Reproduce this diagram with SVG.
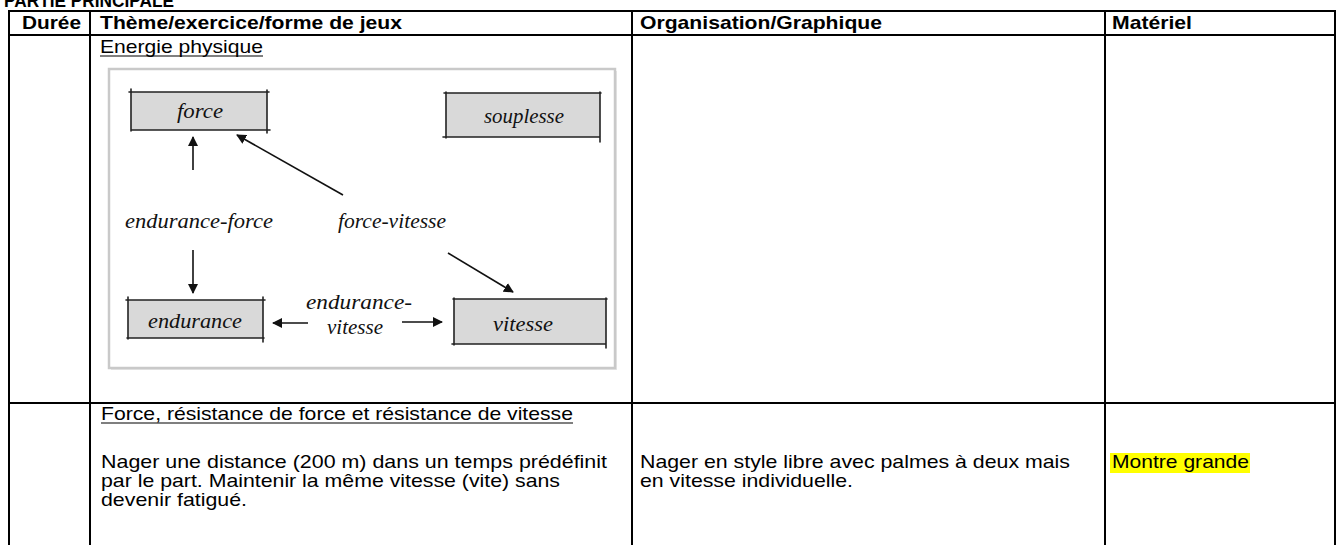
<svg xmlns="http://www.w3.org/2000/svg" width="1338" height="545" viewBox="0 0 1338 545">
<style>
.hd{font-family:"Liberation Sans",Arial,sans-serif;font-weight:bold;font-size:19px;fill:#000}
.tx{font-family:"Liberation Sans",Arial,sans-serif;font-size:19px;fill:#000}
.hw{font-family:"Liberation Serif","Times New Roman",serif;font-style:italic;font-size:22px;fill:#111}
.tl{stroke:#000;stroke-width:2;fill:none}
.ul{stroke:#000;stroke-width:1.2}
.bx{fill:#d9d9d9;stroke:none}
.bl{stroke:#222;stroke-width:1.6;fill:none;stroke-linecap:round}
.ar{stroke:#111;stroke-width:1.6;fill:none;marker-end:url(#ah)}
</style>
<defs>
<marker id="ah" viewBox="0 0 10 10" refX="9" refY="5" markerWidth="10" markerHeight="10" orient="auto" markerUnits="userSpaceOnUse">
<path d="M0,0 L10,5 L0,10 z" fill="#111"/>
</marker>
</defs>
<rect width="1338" height="545" fill="#fff"/>
<g id="title">
<text class="hd" x="4" y="7" font-size="18" textLength="170" lengthAdjust="spacingAndGlyphs">PARTIE PRINCIPALE</text>
</g>
<g id="table">
<line class="tl" x1="9" y1="11" x2="1336" y2="11"/>
<line class="tl" x1="9" y1="35" x2="1336" y2="35"/>
<line class="tl" x1="9" y1="403" x2="1336" y2="403"/>
<line class="tl" x1="9" y1="10" x2="9" y2="545"/>
<line class="tl" x1="90" y1="10" x2="90" y2="545"/>
<line class="tl" x1="632" y1="10" x2="632" y2="545"/>
<line class="tl" x1="1105" y1="10" x2="1105" y2="545"/>
<line class="tl" x1="1335" y1="10" x2="1335" y2="545"/>
<text class="hd" x="22" y="29" textLength="59" lengthAdjust="spacingAndGlyphs">Durée</text>
<text class="hd" x="100" y="29" textLength="302" lengthAdjust="spacingAndGlyphs">Thème/exercice/forme de jeux</text>
<text class="hd" x="640" y="29" textLength="242" lengthAdjust="spacingAndGlyphs">Organisation/Graphique</text>
<text class="hd" x="1112" y="29" textLength="80" lengthAdjust="spacingAndGlyphs">Matériel</text>
<text class="tx" x="100" y="53" textLength="163" lengthAdjust="spacingAndGlyphs">Energie physique</text>
<line class="ul" x1="100" y1="56" x2="263" y2="56"/>
<text class="tx" x="101" y="420" textLength="472" lengthAdjust="spacingAndGlyphs">Force, résistance de force et résistance de vitesse</text>
<line class="ul" x1="101" y1="423" x2="573" y2="423"/>
<text class="tx" x="101" y="468" textLength="506" lengthAdjust="spacingAndGlyphs">Nager une distance (200 m) dans un temps prédéfinit</text>
<text class="tx" x="101" y="487" textLength="459" lengthAdjust="spacingAndGlyphs">par le part. Maintenir la même vitesse (vite) sans</text>
<text class="tx" x="101" y="506" textLength="146" lengthAdjust="spacingAndGlyphs">devenir fatigué.</text>
<text class="tx" x="640" y="468" textLength="430" lengthAdjust="spacingAndGlyphs">Nager en style libre avec palmes à deux mais</text>
<text class="tx" x="640" y="487" textLength="213" lengthAdjust="spacingAndGlyphs">en vitesse individuelle.</text>
<rect x="1110" y="453" width="140" height="20" fill="#ffff00"/>
<text class="tx" x="1112" y="468" textLength="137" lengthAdjust="spacingAndGlyphs">Montre grande</text>
</g>
<g id="frame">
<rect x="111" y="71" width="506" height="299" fill="#e6e6e6"/>
<rect x="109" y="69" width="506" height="299" fill="#fff" stroke="#c9c9c9" stroke-width="2.5"/>
</g>
<g id="node-force">
<rect class="bx" x="131" y="92" width="136" height="38"/>
<path class="bl" d="M129,92 H269 M131,130 H270 M131,89 V131 M267,90 V133"/>
<text class="hw" x="200" y="118" text-anchor="middle" textLength="46" lengthAdjust="spacingAndGlyphs">force</text>
</g>
<g id="node-souplesse">
<rect class="bx" x="446" y="93" width="154" height="44"/>
<path class="bl" d="M444,93 H601 M443,137 H600 M446,92 V138 M600,92 V142"/>
<text class="hw" x="524" y="123" text-anchor="middle" textLength="80" lengthAdjust="spacingAndGlyphs">souplesse</text>
</g>
<g id="node-endurance">
<rect class="bx" x="128" y="300" width="135" height="38"/>
<path class="bl" d="M126,300 H265 M127,338 H264 M128,297 V339 M263,297 V342"/>
<text class="hw" x="195" y="328" text-anchor="middle" textLength="94" lengthAdjust="spacingAndGlyphs">endurance</text>
</g>
<g id="node-vitesse">
<rect class="bx" x="454" y="299" width="152" height="45"/>
<path class="bl" d="M453,299 H607 M452,344 H606 M454,298 V345 M606,298 V348"/>
<text class="hw" x="523" y="331" text-anchor="middle" textLength="60" lengthAdjust="spacingAndGlyphs">vitesse</text>
</g>
<g id="connectors">
<line class="ar" x1="193" y1="170" x2="193" y2="137"/>
<line class="ar" x1="343" y1="195" x2="237" y2="135"/>
<line class="ar" x1="193" y1="250" x2="193" y2="293"/>
<line class="ar" x1="448" y1="253" x2="513" y2="292"/>
<line class="ar" x1="308" y1="323" x2="273" y2="323"/>
<line class="ar" x1="402" y1="322" x2="442" y2="322"/>
<text class="hw" x="125" y="228" textLength="148" lengthAdjust="spacingAndGlyphs">endurance-force</text>
<text class="hw" x="338" y="228" textLength="108" lengthAdjust="spacingAndGlyphs">force-vitesse</text>
<text class="hw" x="306" y="309" font-size="19" textLength="106" lengthAdjust="spacingAndGlyphs">endurance-</text>
<text class="hw" x="327" y="334" font-size="19" textLength="56" lengthAdjust="spacingAndGlyphs">vitesse</text>
</g>
</svg>
